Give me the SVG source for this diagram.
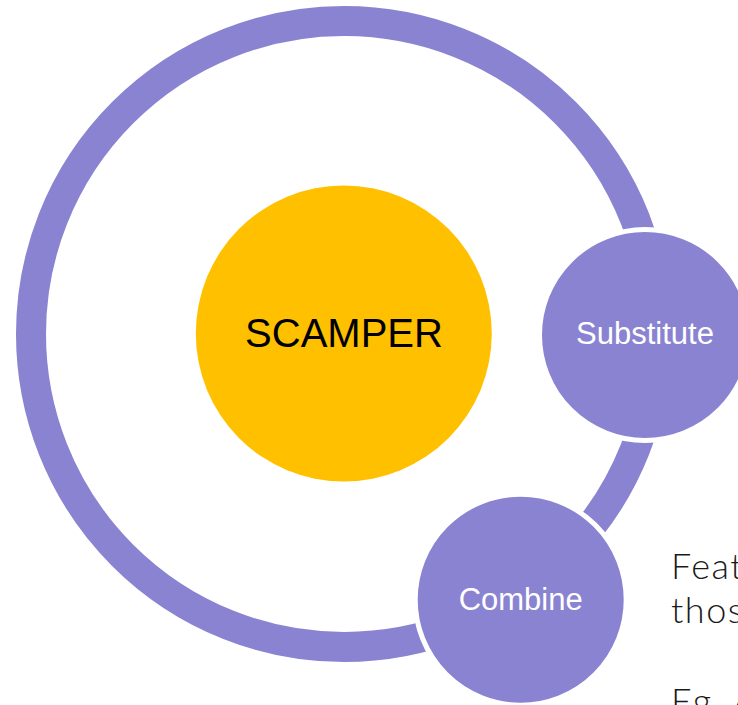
<svg xmlns="http://www.w3.org/2000/svg" width="738" height="705" viewBox="0 0 738 705">
<style>
.ring{fill:none;stroke:#8A83D2;stroke-width:30}
.sat{fill:#8A83D2;stroke:#FFFFFF;stroke-width:5}
.lbl{font-family:"Liberation Sans",Arial,sans-serif;font-size:31px;fill:#FFFFFF;text-anchor:middle}
.note{font-family:Lato,"Open Sans",sans-serif;font-weight:300;font-size:36px;letter-spacing:1.5px;fill:#1A1A1A}
</style>
<rect width="738" height="705" fill="#FFFFFF"/>
<g id="connectors">
<circle class="ring" cx="344" cy="334" r="313"/>
</g>
<g id="scamper">
<circle cx="343.8" cy="333.5" r="148" fill="#FFC000"/>
<text x="344" y="347" font-family="Liberation Sans, Arial, sans-serif" font-size="40" fill="#000000" text-anchor="middle">SCAMPER</text>
</g>
<g id="substitute">
<circle class="sat" cx="645" cy="335" r="105.5"/>
<text class="lbl" x="645" y="344">Substitute</text>
</g>
<g id="combine">
<circle class="sat" cx="520.7" cy="599.7" r="105.5"/>
<text class="lbl" x="520.7" y="610">Combine</text>
</g>
<g id="description">
<text class="note" x="671" y="579">Feat</text>
<text class="note" x="671" y="623">thos</text>
<text class="note" x="671" y="714">Eg. A</text>
</g>
</svg>
